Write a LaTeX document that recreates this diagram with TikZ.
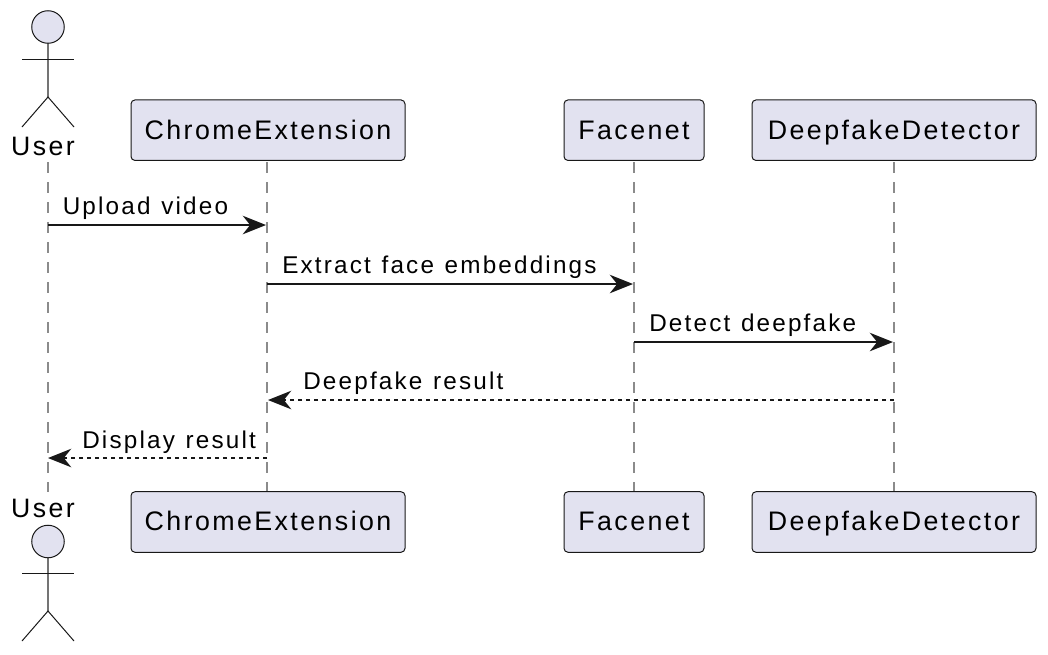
\documentclass[tikz,border=0pt]{standalone}
\usepackage{fontspec}
\setmainfont[LetterSpace=9]{Liberation Sans}
\newfontfamily\msgfont[LetterSpace=9,WordSpace=1.2]{Liberation Sans}
\usetikzlibrary{arrows.meta}
\definecolor{partfill}{HTML}{E2E2F0}
\definecolor{partline}{HTML}{181818}
\tikzset{
  x=0.75pt,y=-0.75pt,
  partbox/.style={draw=partline,fill=partfill,rounded corners=3pt,line width=0.75pt,minimum height=45.4pt,inner sep=0pt,text=black,font=\fontsize{20.1}{24}\selectfont,text height=18pt,text depth=4.8pt,anchor=center},
  lifeline/.style={draw=partline!50,line width=1.4pt,dash pattern=on 8pt off 7pt},
  actorshape/.style={draw=partline,line width=0.75pt},
  actorbody/.style={draw=partline!60,line width=1.1pt},
  msg/.style={draw=partline,line width=1.4pt,-{Stealth[length=17.5pt,width=14pt,inset=5.6pt,line width=0pt,fill=partline]}},
  reply/.style={msg,dash pattern=on 3pt off 3pt},
  msgtext/.style={anchor=base west,inner sep=0pt,font=\msgfont\fontsize{18.2}{22}\selectfont,text=black},
  actortext/.style={anchor=base,inner sep=0pt,font=\fontsize{20}{24}\selectfont,text=black}
}
\begin{document}
\begin{tikzpicture}
\useasboundingbox (0,0) rectangle (1048,654);
% lifeline end points
\coordinate (ut) at (48,162);
\coordinate (ub) at (48,492);
\coordinate (ct) at (267,162);
\coordinate (cb) at (267,492);
\coordinate (ft) at (634,162);
\coordinate (fb) at (634,492);
\coordinate (dt) at (894,162);
\coordinate (db) at (894,492);
\draw[lifeline] (ut) -- (ub);
\draw[lifeline] (ct) -- (cb);
\draw[lifeline] (ft) -- (fb);
\draw[lifeline] (dt) -- (db);
% top participants
\node[partbox,minimum width=205.5pt] (chromeT) at (268,130.2) {ChromeExtension};
\node[partbox,minimum width=105pt] (faceT) at (634,130.2) {Facenet};
\node[partbox,minimum width=213pt] (deepT) at (894,130.2) {DeepfakeDetector};
% bottom participants
\node[partbox,minimum width=205.5pt] (chromeB) at (268,522) {ChromeExtension};
\node[partbox,minimum width=105pt] (faceB) at (634,522) {Facenet};
\node[partbox,minimum width=213pt] (deepB) at (894,522) {DeepfakeDetector};
% actors
\node[actortext] (userT) at (43,155) {User};
\node[actortext] (userB) at (43,517) {User};
\draw[actorbody] (48,43) -- (48,97);
\draw[actorshape] (22,59) -- (74,59);
\draw[actorshape] (22,127) -- (48,97) -- (74,127);
\draw[actorshape,fill=partfill] (48,27) circle (12.2pt);
\draw[actorbody] (48,558) -- (48,611);
\draw[actorshape] (22,573) -- (74,573);
\draw[actorshape] (22,641) -- (48,611) -- (74,641);
\draw[actorshape,fill=partfill] (48,541.5) circle (12.2pt);
% messages
\coordinate (m1a) at (48,225); \coordinate (m1b) at (266,225);
\coordinate (m2a) at (267,284); \coordinate (m2b) at (633,284);
\coordinate (m3a) at (634,342); \coordinate (m3b) at (893,342);
\coordinate (m4a) at (894,400); \coordinate (m4b) at (268,400);
\coordinate (m5a) at (267,458); \coordinate (m5b) at (48,458);
\draw[msg] (m1a) -- (m1b);
\draw[msg] (m2a) -- (m2b);
\draw[msg] (m3a) -- (m3b);
\draw[reply] (m4a) -- (m4b);
\draw[reply] (m5a) -- (m5b);
\node[msgtext] (t1) at (62.5,214) {Upload video};
\node[msgtext] (t2) at (282,273) {Extract face embeddings};
\node[msgtext] (t3) at (649,331) {Detect deepfake};
\node[msgtext] (t4) at (303,389.5) {Deepfake result};
\node[msgtext] (t5) at (82,448) {Display result};
\end{tikzpicture}
\end{document}
